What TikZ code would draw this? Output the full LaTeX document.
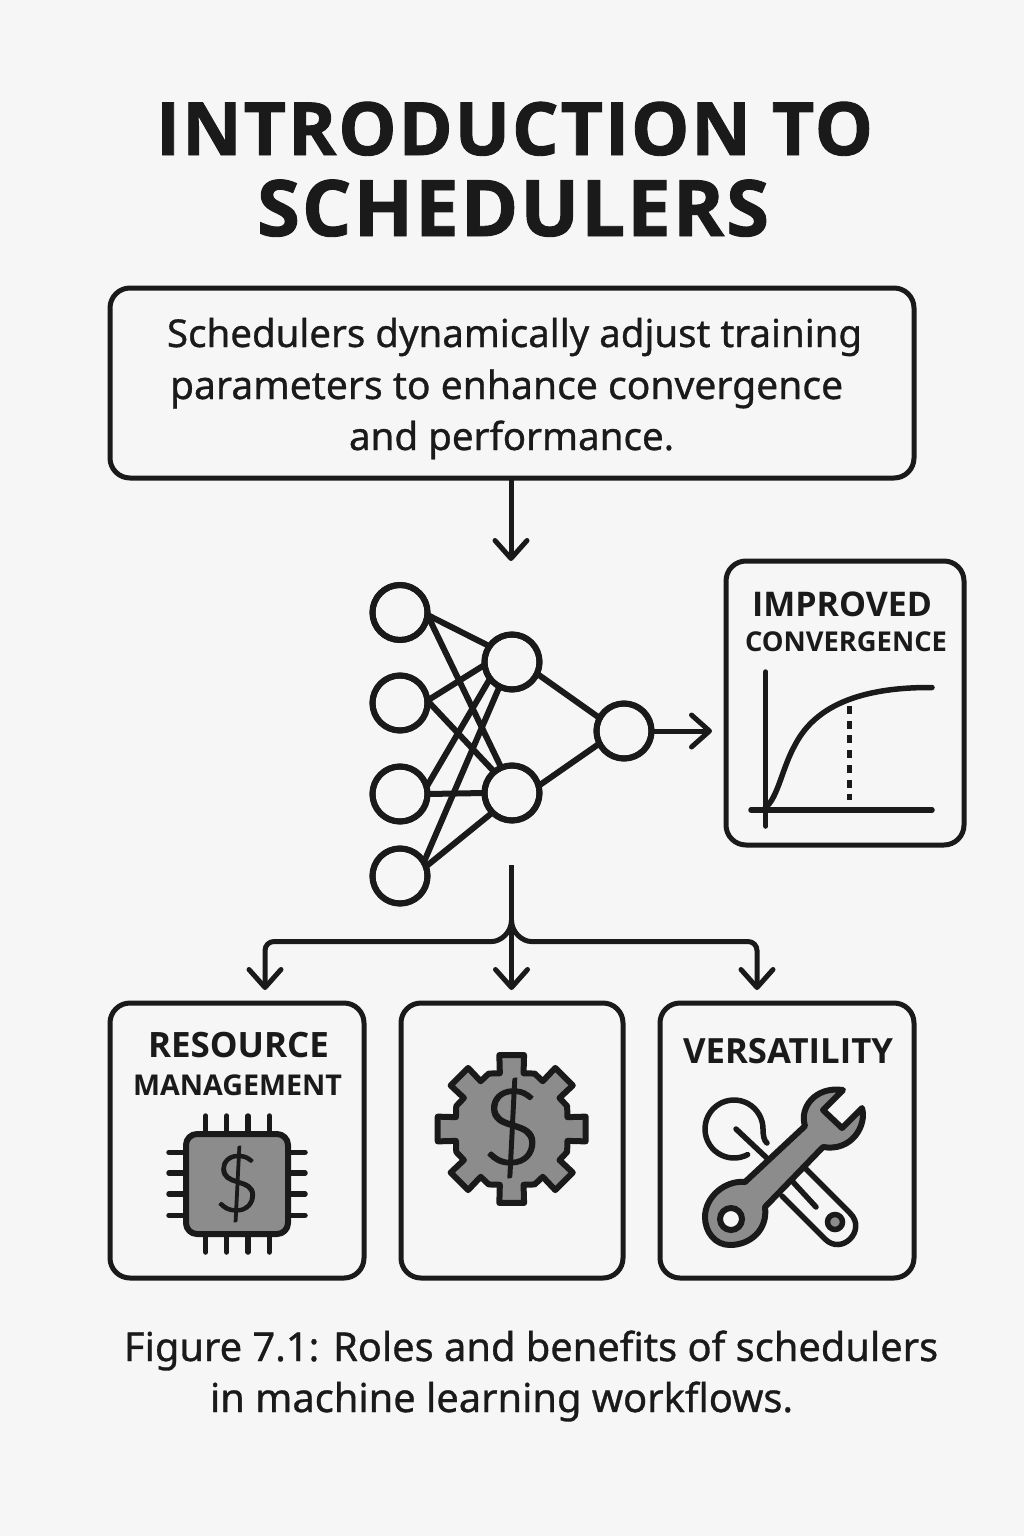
\documentclass[tikz,border=0pt]{standalone}
\usepackage{fontspec}
\usepackage{graphicx}
\setmainfont[FakeBold=0.8]{Noto Sans}
\newfontfamily\headf{Open Sans}
\newfontfamily\titlef[LetterSpace=2.5,FakeBold=1.2]{Open Sans}
\newfontfamily\dollarchip[FakeBold=1.5]{Lato Light}
\newfontfamily\dollargear[FakeBold=1.5]{Lato Light}
\usetikzlibrary{arrows.meta}
\definecolor{ink}{HTML}{1A1A1A}
\definecolor{paper}{HTML}{F6F6F6}
\definecolor{midgrey}{HTML}{8C8C8C}
\newcommand{\fitw}[2]{\resizebox{#1pt}{!}{#2}}
\tikzset{
  txt/.style={anchor=base west,inner sep=0pt,outer sep=0pt,text=ink},
  card/.style={draw=ink,line width=5pt,fill=paper,rounded corners=20pt},
  neuron/.style={circle,draw=ink,line width=6pt,fill=paper,minimum size=55pt,inner sep=0pt,outer sep=0pt},
  link/.style={draw=ink,line width=6pt},
  conn/.style={draw=ink,line width=5pt,-{Straight Barb[length=18pt,width=32pt,line width=5pt,round]}},
  stroke/.style={draw=ink,line width=5.5pt,line cap=round,line join=round},
  iconfill/.style={draw=ink,line width=6pt,fill=midgrey,line join=round},
}
\begin{document}
\begin{tikzpicture}[x=1pt,y=-1pt]
\useasboundingbox (0,0) rectangle (1024,1536);
\fill[paper] (0,0) rectangle (1024,1536);
% title
\node[txt] (t1) at (156,155) {\fitw{717}{\titlef\bfseries INTRODUCTION TO}};
\node[txt] (t2) at (257,236) {\fitw{512}{\titlef\bfseries SCHEDULERS}};
% intro box
\draw[card] (110,288) rectangle (914,478);
\coordinate (introS) at (511,478);
\coordinate (introT) at (511,561);
\node[txt] (i1) at (167,347) {\fitw{695}{Schedulers dynamically adjust training}};
\node[txt] (i2) at (170,399) {\fitw{673}{parameters to enhance convergence}};
\node[txt] (i3) at (349,450) {\fitw{325}{and performance.}};
\draw[conn] (introS) -- (introT);
% network
\foreach \n/\x/\y in {a/400/612.5,b/400/703,c/400/794,d/400/876,e/512/662,f/512/793,g/624/731}
  \node[neuron] (\n) at (\x,\y) {};
\draw[link] (a.-5) -- (e.145);
\draw[link] (a.-5) -- (f.113);
\draw[link] (b.5) -- (e.186);
\draw[link] (b.5) -- (f.130);
\draw[link] (c.15) -- (e.217);
\draw[link] (c.0) -- (f.180);
\draw[link] (d.30) -- (e.243);
\draw[link] (d.20) -- (f.225);
\draw[link] (e.-25) -- (g.152);
\draw[link] (f.15) -- (g.207);
\foreach \n/\x/\y in {a/400/612.5,b/400/703,c/400/794,d/400/876,e/512/662,f/512/793,g/624/731}
  \draw[draw=ink,line width=6pt] (\n) circle[radius=27.5pt];
\coordinate (outT) at (712,731);
\draw[conn] (g.east) -- (outT);
% convergence card
\draw[card] (726,561) rectangle (964,845);
\node[txt] (c1) at (752,616) {\fitw{180}{\headf\bfseries IMPROVED}};
\node[txt] (c2) at (745,651) {\fitw{202}{\headf\bfseries CONVERGENCE}};
\draw[stroke] (765.7,672) -- (765.7,826);
\draw[stroke] (751,810) -- (932,810);
\draw[stroke] (765,808) .. controls (778,798) and (782,768) .. (795,745) .. controls (812,712) and (850,687) .. (932,687.5);
\draw[draw=ink,line width=5pt,dash pattern=on 8pt off 6.7pt] (849.5,706) -- (849.5,800);
% bus
\coordinate (stem) at (511.5,865);
\coordinate (fork) at (511.5,920);
\coordinate (tL) at (265,990);
\coordinate (tM) at (511.5,990);
\coordinate (tR) at (757,990);
\draw[conn] (stem) -- (tM);
\draw[conn,rounded corners=9pt] (fork) .. controls (511.5,933) and (500,941.5) .. (483,941.5) -- (265,941.5) -- (tL);
\draw[conn,rounded corners=9pt] (fork) .. controls (511.5,933) and (523,941.5) .. (540,941.5) -- (757,941.5) -- (tR);
% bottom cards
\draw[card] (110,1003) rectangle (364,1278);
\draw[card] (401,1003) rectangle (623,1278);
\draw[card] (660,1003) rectangle (914,1278);
\node[txt] (r1) at (148,1057) {\fitw{181}{\headf\bfseries RESOURCE}};
\node[txt] (r2) at (133,1095) {\fitw{209}{\headf\bfseries MANAGEMENT}};
\node[txt] (v1) at (683,1063) {\fitw{210}{\headf\bfseries VERSATILITY}};
% chip
\foreach \x in {205.7,226.7,248,269.3} {
  \draw[stroke] (\x,1116) -- (\x,1134);
  \draw[stroke] (\x,1234) -- (\x,1252);
}
\foreach \y in {1152.3,1173,1194,1215.3} {
  \draw[stroke] (169,\y) -- (186,\y);
  \draw[stroke] (288,\y) -- (305,\y);
}
\draw[iconfill,rounded corners=11pt] (186,1134) rectangle (288,1234);
\node[inner sep=0pt,text=ink] (chipd) at (237,1184) {\fontsize{80}{80}\selectfont\dollarchip\$};
% gear
\begin{scope}[shift={(511.7,1129)}]
\draw[iconfill] (-12:57) \foreach \a in {0,45,...,315} {
    -- (\a-12:57) -- (\a-9.5:75) -- (\a+9.5:75) -- (\a+12:57) -- (\a+22.5:60)
  } -- cycle;
\end{scope}
\node[inner sep=0pt,text=ink] (geard) at (511.7,1128) {\fontsize{105}{105}\selectfont\dollargear\$};
% tools
\draw[stroke,fill=paper] (806,1169) -- (850.2,1213.3) .. controls (867,1230) and (842,1256) .. (825,1239) -- (782,1196);
\draw[stroke] (793,1182) -- (816,1207);
\draw[draw=ink,line width=5.5pt,fill=midgrey] (835,1222) circle[radius=7.5pt];
\draw[stroke] (736,1129) -- (770,1161);
\draw[stroke] (767,1143) .. controls (764,1141) and (763,1135) .. (763,1129) -- plot[smooth,domain=0:-298,samples=40] ({734+29*cos(\x)},{1129+29*sin(\x)});
\draw[iconfill] (745,1182) -- (805,1126) .. controls (799,1108) and (815,1086) .. (843,1090) -- (823,1110) -- (842,1128) -- (862,1108) .. controls (867,1125) and (852,1152) .. (823,1147) -- (765,1207) .. controls (768,1230) and (750,1245) .. (730,1245) .. controls (715,1245) and (705,1232) .. (705,1217) .. controls (705,1197) and (725,1180) .. (745,1182) -- cycle;
\draw[draw=ink,line width=6pt,fill=paper] (731,1219) circle[radius=11pt];
% caption
\node[txt] (f1) at (124,1361) {\fitw{814}{Figure 7.1: Roles and benefits of schedulers}};
\node[txt] (f2) at (210,1412) {\fitw{583}{in machine learning workflows.}};
\end{tikzpicture}
\end{document}
